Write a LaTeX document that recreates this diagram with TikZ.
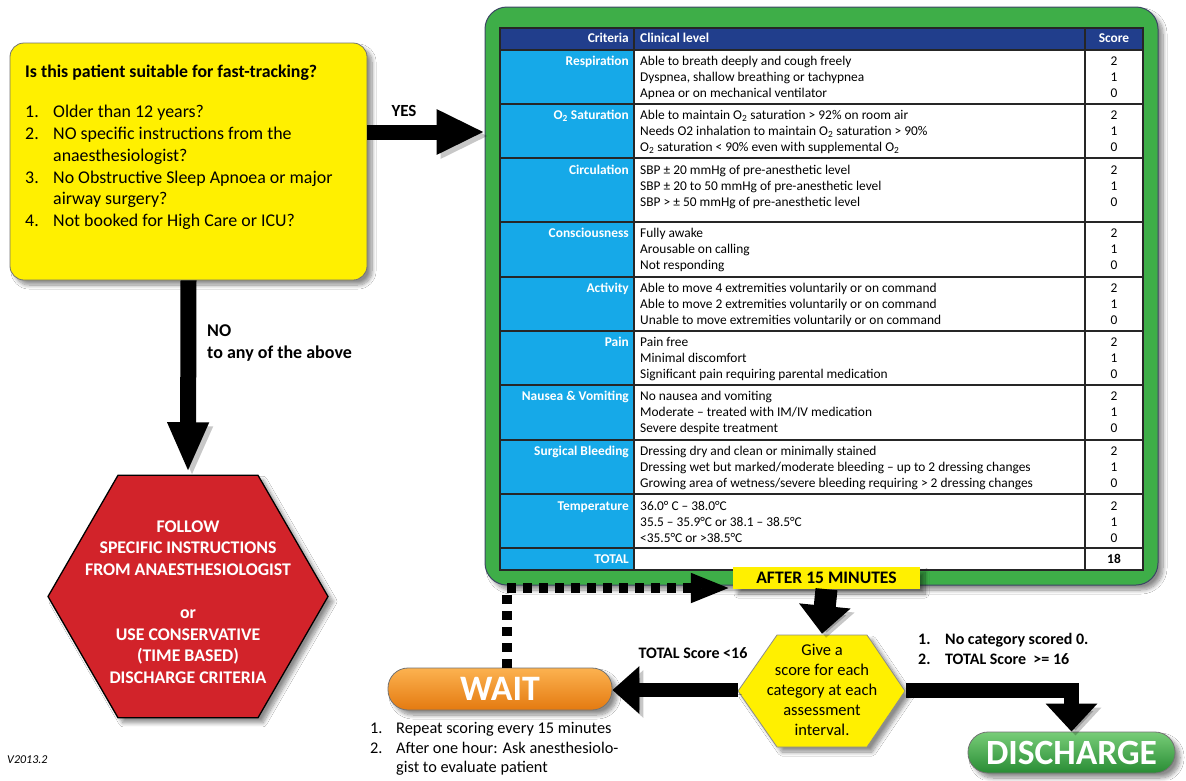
\documentclass[tikz,border=0pt]{standalone}
\usepackage{fontspec}
\setmainfont{Carlito}
\usetikzlibrary{arrows.meta,shapes.geometric,shadows.blur}
\definecolor{cyel}{RGB}{255,240,0}
\definecolor{cred}{RGB}{210,35,42}
\definecolor{cgreen}{RGB}{62,174,72}
\definecolor{ccyan}{RGB}{22,169,232}
\definecolor{cnavy}{RGB}{33,62,140}
\definecolor{cframe}{RGB}{60,70,100}
\newcommand{\fs}[2]{\fontsize{#1}{#2}\selectfont}
\newcommand{\crow}[6]{%
  \node[crit] (#1c) at (629,#2+12) {#3};
  \node[cl] (#1a) at (640,#2+12) {#4};
  \node[cl] (#1b) at (640,#2+28) {#5};
  \node[cl] (#1d) at (640,#2+44) {#6};
  \node[sc] (#1s2) at (1114,#2+12) {2};
  \node[sc] (#1s1) at (1114,#2+28) {1};
  \node[sc] (#1s0) at (1114,#2+44) {0};
}
\begin{document}
\begin{tikzpicture}[x=1pt,y=-1pt,
  cl/.style={anchor=west,inner sep=0pt,font=\fs{13.4}{15},text height=10pt,text depth=3.4pt},
  crit/.style={anchor=east,inner sep=0pt,font=\bfseries\fs{13.4}{15},text=white,text height=10pt,text depth=3.4pt},
  sc/.style={inner sep=0pt,font=\fs{13.4}{15},text height=10pt,text depth=3.4pt},
  myshadow/.style={blur shadow={shadow xshift=5pt,shadow yshift=-5pt,shadow blur radius=4pt,shadow blur steps=10,shadow opacity=45}},
  arrsh/.style={preaction={draw=black,opacity=0.22,transform canvas={xshift=4pt,yshift=-4pt}}},
  fat/.style={draw=black,arrsh},
  ytxt/.style={anchor=west,inner sep=0pt,font=\fs{17.9}{21},text height=12.5pt,text depth=4.5pt},
  lbl/.style={inner sep=0pt,font=\bfseries\fs{16}{19},text height=11.5pt,text depth=3.5pt},
  wtxt/.style={anchor=west,inner sep=0pt,font=\fs{16.3}{19},text height=11.5pt,text depth=3.8pt},
]
\useasboundingbox (0,0) rectangle (1186,780);
\fill[white] (0,0) rectangle (1186,780);

% green frame
\node[minimum width=673pt,minimum height=578pt,rounded corners=22pt,fill=cgreen,draw=cframe,line width=1pt,myshadow,inner sep=0pt] (gb) at (821.5,296) {};
% table
\fill[cnavy] (500,28) rectangle (1143,50);
\fill[ccyan] (500,50) rectangle (634,570);
\fill[white] (634,50) rectangle (1143,570);
\foreach \yy in {50,104,158,222,277,331,385,440,494,548}
  \draw[line width=1.4pt,black!85] (500,\yy) -- (1143,\yy);
\draw[line width=1.4pt,black!85] (634,28) -- (634,570) (1085,28) -- (1085,570);
\draw[line width=1.6pt,black!85] (500,28) rectangle (1143,570);
\node[crit] (hcrit) at (629,39) {Criteria};
\node[crit,anchor=west] (hclin) at (640,39) {Clinical level};
\node[crit,anchor=center] (hscore) at (1114,39) {Score};
\crow{resp}{50}{Respiration}{Able to breath deeply and cough freely}{Dyspnea, shallow breathing or tachypnea}{Apnea or on mechanical ventilator}
\crow{osat}{104}{O\textsubscript{2} Saturation}{Able to maintain O\textsubscript{2} saturation > 92\% on room air}{Needs O2 inhalation to maintain O\textsubscript{2} saturation > 90\%}{O\textsubscript{2} saturation < 90\% even with supplemental O\textsubscript{2}}
\crow{circ}{159}{Circulation}{SBP ± 20 mmHg of pre-anesthetic level}{SBP ± 20 to 50 mmHg of pre-anesthetic level}{SBP > ± 50 mmHg of pre-anesthetic level}
\crow{cons}{222}{Consciousness}{Fully awake}{Arousable on calling}{Not responding}
\crow{acti}{277}{Activity}{Able to move 4 extremities voluntarily or on command}{Able to move 2 extremities voluntarily or on command}{Unable to move extremities voluntarily or on command}
\crow{pain}{331}{Pain}{Pain free}{Minimal discomfort}{Significant pain requiring parental medication}
\crow{naus}{385}{Nausea \& Vomiting}{No nausea and vomiting}{Moderate – treated with IM/IV medication}{Severe despite treatment}
\crow{surg}{440}{Surgical Bleeding}{Dressing dry and clean or minimally stained}{Dressing wet but marked/moderate bleeding – up to 2 dressing changes}{Growing area of wetness/severe bleeding requiring > 2 dressing changes}
\crow{temp}{495}{Temperature}{36.0° C – 38.0°C}{35.5 – 35.9°C or 38.1 – 38.5°C}{<35.5°C or >38.5°C}
\node[crit] (tot) at (629,560) {TOTAL};
\node[sc,font=\bfseries\fs{13.4}{15}] (totv) at (1114,560) {18};

% yellow question box
\node[minimum width=357pt,minimum height=237pt,rounded corners=14pt,fill=cyel,draw=black!55,line width=0.8pt,myshadow,inner sep=0pt] (yq) at (188.5,161.5) {};
\node[ytxt,font=\bfseries\fs{17.8}{21}] (yqt) at (25,73) {Is this patient suitable for fast-tracking?};
\node[ytxt] (n1) at (25,113) {1.};
\node[ytxt] (q1) at (53,113) {Older than 12 years?};
\node[ytxt] (n2) at (25,135) {2.};
\node[ytxt] (q2) at (53,135) {NO specific instructions from the};
\node[ytxt] (q2b) at (53,157) {anaesthesiologist?};
\node[ytxt] (n3) at (25,179) {3.};
\node[ytxt] (q3) at (53,179) {No Obstructive Sleep Apnoea or major};
\node[ytxt] (q3b) at (53,200) {airway surgery?};
\node[ytxt] (n4) at (25,222) {4.};
\node[ytxt] (q4) at (53,222) {Not booked for High Care or ICU?};

% red hexagon
\node[regular polygon,regular polygon sides=6,minimum size=280pt,inner sep=0pt,outer sep=0pt,fill=cred,draw=black,line width=1.3pt,myshadow] (rh) at (188,596.5) {};
\node[align=center,text=white,font=\bfseries\fs{17.8}{21.6},inner sep=0pt] (rht) at (188,602) {FOLLOW\\SPECIFIC INSTRUCTIONS\\FROM ANAESTHESIOLOGIST\\[21.6pt]or\\USE CONSERVATIVE\\(TIME BASED)\\DISCHARGE CRITERIA};

% after 15 minutes
\node[minimum width=187pt,minimum height=22pt,inner sep=0pt,fill=cyel,myshadow,font=\bfseries\fs{17.6}{19}] (af) at (826.5,578) {AFTER 15 MINUTES};

% yellow hexagon
\filldraw[fill=cyel,draw=black!45,line width=0.8pt,myshadow] (738,691) -- (777,635) -- (867,635) -- (905,691) -- (867,747) -- (777,747) -- cycle;
\node[minimum width=167pt,minimum height=112pt,inner sep=0pt,align=center,font=\fs{16.5}{20}] (gh) at (822,690) {Give a\\score for each\\category at each\\assessment\\interval.};

% wait and discharge
\node[minimum width=224pt,minimum height=42pt,rounded corners=20pt,inner sep=0pt,draw=black!55,line width=0.8pt,
  top color={rgb,255:red,252;green,178;blue,80},middle color={rgb,255:red,247;green,148;blue,29},bottom color={rgb,255:red,228;green,122;blue,16},
  myshadow,text=white,font=\bfseries\fs{35.8}{37}] (wait) at (500,689) {WAIT};
\node[minimum width=207pt,minimum height=41pt,rounded corners=20pt,inner sep=0pt,draw=black!55,line width=0.8pt,
  top color={rgb,255:red,120;green,205;blue,120},middle color={rgb,255:red,62;green,176;blue,73},bottom color={rgb,255:red,40;green,140;blue,52},
  myshadow,text=white,font=\bfseries\fs{35.5}{37}] (dis) at (1071.5,752.5) {DISCHARGE};

% connectors
\coordinate (ys) at ([yshift=29.5pt]yq.east);
\draw[fat,line width=15pt,-{Triangle[length=48pt,width=42pt]}] (ys) -- (ys -| gb.west);
\draw[fat,line width=16pt,-{Triangle[length=50pt,width=38pt]}] (yq.south) -- ([yshift=3pt]rh.north);
\draw[fat,line width=22pt,-{Triangle[length=28pt,width=50pt]}] (af.south) -- (gh.north);
\draw[fat,line width=14pt,-{Triangle[length=27pt,width=46pt]}] (gh.west) -- (gh.west -| wait.east);
\draw[fat,line width=15pt,-{Triangle[length=28pt,width=50pt]}] (gh.east) -| (dis.north);
\coordinate (ws) at ([xshift=7pt]wait.north);
\coordinate (ae) at ([yshift=-10pt,xshift=-2pt]af.west);
\draw[line width=10pt,dash pattern=on 9pt off 7pt,-{Triangle[length=40pt,width=27pt]}] (ws) |- (ae);

% labels
\node[lbl,font=\bfseries\fs{17}{19}] (yes) at (404,112) {YES};
\node[lbl,anchor=west,font=\bfseries\fs{18}{20}] (no1) at (207,332) {NO};
\node[lbl,anchor=west,font=\bfseries\fs{18}{20}] (no2) at (207,354) {to any of the above};
\node[lbl] (lt16) at (693,654) {TOTAL Score <16};
\node[lbl,anchor=west] (c1n) at (918,640) {1.};
\node[lbl,anchor=west] (c1) at (945,640) {No category scored 0.};
\node[lbl,anchor=west] (c2n) at (918,660) {2.};
\node[lbl,anchor=west] (c2) at (945,660) {TOTAL Score \ >= 16};
\node[wtxt] (w1n) at (370,730) {1.};
\node[wtxt] (w1) at (396,730) {Repeat scoring every 15 minutes};
\node[wtxt] (w2n) at (370,750) {2.};
\node[wtxt] (w2) at (396,750) {After one hour: Ask anesthesiolo-};
\node[wtxt] (w3) at (396,769) {gist to evaluate patient};
\node[anchor=west,inner sep=0pt,font=\itshape\fs{12}{14}] (ver) at (7,760) {V2013.2};
\end{tikzpicture}
\end{document}
